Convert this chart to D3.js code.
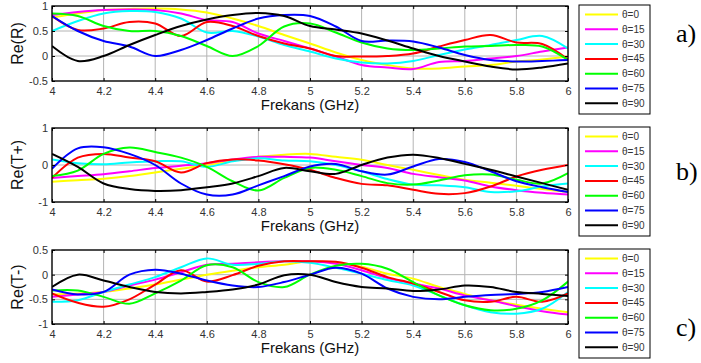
<!DOCTYPE html>
<html>
<head>
<meta charset="utf-8">
<script src="https://cdn.jsdelivr.net/npm/d3@7"></script>
<style>
  html, body { margin: 0; padding: 0; background: #fff; }
  svg { display: block; }
</style>
</head>
<body>
<svg id="chart" width="701" height="363"></svg>
<script>
// Frequency samples (GHz)
const freq = [4.0, 4.1, 4.2, 4.3, 4.4, 4.5, 4.6, 4.7, 4.8, 4.9, 5.0,
              5.1, 5.2, 5.3, 5.4, 5.5, 5.6, 5.7, 5.8, 5.9, 6.0];

// Incidence angles and their line colours
const angles = ["θ=0", "θ=15", "θ=30", "θ=45", "θ=60", "θ=75", "θ=90"];
const colors = ["#ffff00", "#ff00ff", "#00ffff", "#ff0000", "#00ff00", "#0000ff", "#000000"];

const xTicks = [4, 4.2, 4.4, 4.6, 4.8, 5, 5.2, 5.4, 5.6, 5.8, 6];

// a) Re(R)
const reR = [
  [0.77, 0.85, 0.92, 0.94, 0.95, 0.93, 0.87, 0.75, 0.60, 0.42, 0.25, 0.07, -0.08, -0.18, -0.25, -0.25, -0.21, -0.18, -0.11, -0.07, -0.01],
  [0.82, 0.88, 0.92, 0.93, 0.92, 0.85, 0.72, 0.68, 0.45, 0.30, 0.15, -0.01, -0.18, -0.23, -0.26, -0.12, -0.10, -0.05, 0.00, 0.09, 0.17],
  [0.50, 0.70, 0.85, 0.90, 0.88, 0.75, 0.47, 0.50, 0.39, 0.22, 0.09, -0.05, -0.13, -0.15, -0.10, 0.02, 0.13, 0.22, 0.32, 0.40, 0.15],
  [0.80, 0.52, 0.55, 0.68, 0.65, 0.40, 0.68, 0.60, 0.40, 0.25, 0.15, 0.00, -0.01, 0.00, 0.05, 0.19, 0.32, 0.42, 0.27, 0.24, -0.07],
  [0.85, 0.80, 0.60, 0.50, 0.50, 0.40, 0.20, 0.00, 0.20, 0.59, 0.65, 0.47, 0.27, 0.15, 0.12, 0.15, 0.19, 0.20, 0.22, 0.19, -0.08],
  [0.80, 0.50, 0.30, 0.19, 0.00, 0.12, 0.32, 0.55, 0.75, 0.82, 0.80, 0.59, 0.30, 0.31, 0.29, 0.17, 0.02, -0.08, -0.11, -0.10, -0.08],
  [0.20, -0.10, 0.00, 0.22, 0.42, 0.60, 0.73, 0.82, 0.86, 0.80, 0.60, 0.53, 0.45, 0.31, 0.15, 0.00, -0.11, -0.21, -0.27, -0.23, -0.15]
];

// b) Re(T+)
const reTplus = [
  [-0.45, -0.41, -0.37, -0.30, -0.20, -0.10, 0.00, 0.12, 0.22, 0.28, 0.30, 0.22, 0.14, 0.00, -0.13, -0.27, -0.40, -0.48, -0.56, -0.65, -0.73],
  [-0.35, -0.30, -0.25, -0.17, -0.08, -0.02, 0.05, 0.15, 0.22, 0.22, 0.20, 0.10, 0.00, -0.08, -0.24, -0.33, -0.42, -0.58, -0.68, -0.75, -0.80],
  [0.15, 0.05, 0.02, 0.07, 0.10, 0.10, -0.05, 0.10, 0.18, 0.12, 0.10, 0.00, -0.17, -0.38, -0.53, -0.55, -0.60, -0.73, -0.71, -0.58, -0.50],
  [-0.35, 0.20, 0.30, 0.20, 0.10, -0.20, 0.05, 0.15, 0.12, 0.02, -0.13, -0.35, -0.51, -0.55, -0.67, -0.78, -0.76, -0.58, -0.31, -0.13, 0.00],
  [-0.30, -0.15, 0.30, 0.47, 0.35, 0.20, -0.05, -0.44, -0.69, -0.35, -0.08, -0.13, -0.30, -0.49, -0.53, -0.42, -0.28, -0.26, -0.40, -0.50, -0.22],
  [-0.10, 0.45, 0.48, 0.30, 0.00, -0.50, -0.80, -0.80, -0.55, -0.30, -0.04, 0.03, -0.17, -0.26, -0.04, 0.16, 0.08, -0.17, -0.44, -0.60, -0.73],
  [0.30, -0.05, -0.50, -0.65, -0.70, -0.68, -0.60, -0.50, -0.30, -0.08, -0.17, -0.24, 0.00, 0.20, 0.28, 0.19, 0.03, -0.13, -0.31, -0.49, -0.67]
];

// c) Re(T-)
const reTminus = [
  [-0.40, -0.38, -0.35, -0.28, -0.20, -0.10, 0.00, 0.08, 0.15, 0.20, 0.27, 0.24, 0.16, 0.02, -0.08, -0.25, -0.39, -0.52, -0.61, -0.69, -0.76],
  [-0.45, -0.40, -0.35, -0.22, -0.10, 0.05, 0.20, 0.22, 0.25, 0.27, 0.27, 0.22, 0.09, -0.07, -0.18, -0.28, -0.42, -0.52, -0.64, -0.74, -0.81],
  [-0.55, -0.52, -0.35, -0.20, -0.05, 0.15, 0.33, 0.20, 0.22, 0.27, 0.24, 0.14, 0.02, -0.11, -0.22, -0.42, -0.62, -0.76, -0.79, -0.69, -0.35],
  [-0.38, -0.57, -0.65, -0.50, -0.20, 0.09, -0.14, -0.01, 0.18, 0.27, 0.27, 0.26, 0.14, -0.05, -0.18, -0.35, -0.52, -0.55, -0.45, -0.55, -0.38],
  [-0.32, -0.32, -0.45, -0.59, -0.38, -0.12, 0.19, 0.15, -0.15, -0.25, 0.00, 0.18, 0.22, 0.12, -0.15, -0.42, -0.62, -0.72, -0.69, -0.52, -0.14],
  [-0.30, -0.40, -0.35, 0.00, 0.10, 0.02, -0.12, -0.22, -0.25, -0.15, 0.00, 0.14, 0.02, -0.28, -0.45, -0.50, -0.45, -0.41, -0.39, -0.35, -0.25],
  [-0.25, 0.00, -0.12, -0.25, -0.35, -0.38, -0.35, -0.30, -0.20, -0.01, 0.00, -0.15, -0.25, -0.28, -0.33, -0.30, -0.22, -0.25, -0.35, -0.39, -0.43]
];

const panels = [
  { ylabel: "Re(R)",  series: reR,      yDomain: [-0.5, 1], yTicks: [-0.5, 0, 0.5, 1], top: 6,   bottom: 81,  tag: "a)", tagY: 42,  legTop: 5 },
  { ylabel: "Re(T+)", series: reTplus,  yDomain: [-1, 1],   yTicks: [-1, 0, 1],        top: 128, bottom: 202, tag: "b)", tagY: 180, legTop: 127 },
  { ylabel: "Re(T-)", series: reTminus, yDomain: [-1, 0.5], yTicks: [-1, -0.5, 0, 0.5], top: 250, bottom: 324, tag: "c)", tagY: 336, legTop: 249 }
];

const svg = d3.select("#chart");
const left = 52, right = 568;
const x = d3.scaleLinear().domain([4, 6]).range([left, right]);
const fmt = d => String(d);

panels.forEach((p, pi) => {
  const y = d3.scaleLinear().domain(p.yDomain).range([p.bottom, p.top]);
  const g = svg.append("g");

  // grid
  g.append("g").selectAll("line").data(xTicks).join("line")
    .attr("x1", d => x(d)).attr("x2", d => x(d))
    .attr("y1", p.top).attr("y2", p.bottom)
    .attr("stroke", "#b4b4b4").attr("stroke-width", 1);
  g.append("g").selectAll("line").data(p.yTicks).join("line")
    .attr("x1", left).attr("x2", right)
    .attr("y1", d => y(d)).attr("y2", d => y(d))
    .attr("stroke", "#b4b4b4").attr("stroke-width", 1);

  // curves
  const clipId = "clip" + pi;
  svg.append("clipPath").attr("id", clipId).append("rect")
    .attr("x", left).attr("y", p.top).attr("width", right - left).attr("height", p.bottom - p.top);
  const line = d3.line()
    .x((d, i) => x(freq[i]))
    .y(d => y(d))
    .curve(d3.curveCatmullRom.alpha(0.5));
  g.append("g").attr("clip-path", `url(#${clipId})`)
    .selectAll("path").data(p.series).join("path")
    .attr("d", d => line(d))
    .attr("fill", "none")
    .attr("stroke", (d, i) => colors[i])
    .attr("stroke-width", 2)
    .attr("stroke-linejoin", "round");

  // axes (ticks point inward, mirrored on opposite sides)
  const axB = g.append("g").attr("transform", `translate(0,${p.bottom})`)
    .call(d3.axisBottom(x).tickValues(xTicks).tickFormat(fmt).tickSizeInner(-3).tickSizeOuter(0).tickPadding(6));
  const axT = g.append("g").attr("transform", `translate(0,${p.top})`)
    .call(d3.axisTop(x).tickValues(xTicks).tickFormat("").tickSizeInner(-3).tickSizeOuter(0));
  const axL = g.append("g").attr("transform", `translate(${left},0)`)
    .call(d3.axisLeft(y).tickValues(p.yTicks).tickFormat(fmt).tickSizeInner(-3).tickSizeOuter(0).tickPadding(6));
  const axR = g.append("g").attr("transform", `translate(${right},0)`)
    .call(d3.axisRight(y).tickValues(p.yTicks).tickFormat("").tickSizeInner(-3).tickSizeOuter(0));
  [axB, axT, axL, axR].forEach(a => {
    a.select(".domain").remove();
    a.selectAll("line").attr("stroke", "#000");
    a.selectAll("text").attr("font-family", "Arial, 'Liberation Sans', sans-serif")
      .attr("font-size", 11).attr("fill", "#333");
  });
  axL.selectAll("text").attr("dx", 2);

  // frame
  g.append("rect").attr("x", left).attr("y", p.top)
    .attr("width", right - left).attr("height", p.bottom - p.top)
    .attr("fill", "none").attr("stroke", "#000").attr("stroke-width", 1.3);

  // axis labels
  g.append("text").attr("x", (left + right) / 2).attr("y", p.bottom + 29)
    .attr("text-anchor", "middle")
    .attr("font-family", "Arial, 'Liberation Sans', sans-serif").attr("font-size", 15)
    .attr("fill", "#111").text("Frekans (GHz)");
  g.append("text")
    .attr("transform", `translate(23,${(p.top + p.bottom) / 2}) rotate(-90)`)
    .attr("text-anchor", "middle")
    .attr("font-family", "Arial, 'Liberation Sans', sans-serif").attr("font-size", 16)
    .attr("fill", "#111").text(p.ylabel);

  // legend
  const lg = svg.append("g").attr("transform", `translate(579,${p.legTop})`);
  lg.append("rect").attr("x", 0).attr("y", 0).attr("width", 71).attr("height", 109)
    .attr("fill", "#fff").attr("stroke", "#000").attr("stroke-width", 1);
  const items = lg.selectAll("g").data(angles).join("g")
    .attr("transform", (d, i) => `translate(0,${9.5 + i * 14.8})`);
  items.append("line").attr("x1", 6).attr("x2", 39).attr("y1", 0).attr("y2", 0)
    .attr("stroke", (d, i) => colors[i]).attr("stroke-width", 2);
  items.append("text").attr("x", 43).attr("y", 3.5)
    .attr("font-family", "Arial, 'Liberation Sans', sans-serif").attr("font-size", 10)
    .attr("fill", "#333").text(d => d);

  // panel tag
  svg.append("text").attr("x", 676).attr("y", p.tagY)
    .attr("font-family", "'Liberation Serif', 'Times New Roman', serif").attr("font-size", 26)
    .attr("fill", "#000").text(p.tag);
});
</script>
</body>
</html>
